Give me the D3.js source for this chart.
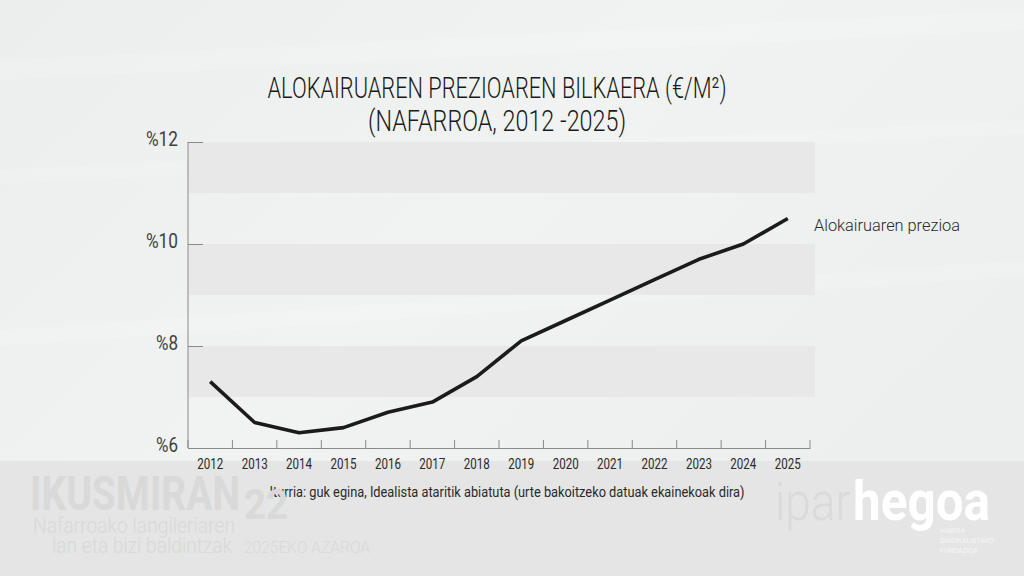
<!DOCTYPE html>
<html><head><meta charset="utf-8">
<script src="https://cdn.jsdelivr.net/npm/d3@7"></script>
<style>
html,body{margin:0;padding:0;background:#eef0ef;}
svg{display:block;}
text{font-family:Roboto,"Open Sans",sans-serif;}
</style></head>
<body>
<svg id="chart" width="1024" height="576"></svg>
<script>
const years = ["2012","2013","2014","2015","2016","2017","2018","2019","2020","2021","2022","2023","2024","2025"];
const prices = [7.3, 6.5, 6.3, 6.4, 6.7, 6.9, 7.4, 8.1, 8.5, 8.9, 9.3, 9.7, 10.0, 10.5];
const yTicks = [6, 8, 10, 12];
const seriesName = "Alokairuaren prezioa";
const titleLines = ["ALOKAIRUAREN PREZIOAREN BILKAERA (€/M²)", "(NAFARROA, 2012 -2025)"];
const sourceText = "Iturria: guk egina, Idealista ataritik abiatuta (urte bakoitzeko datuak ekainekoak dira)";

const svg = d3.select("#chart");
const W = 1024, H = 576;
function fit(sel, w){ return sel.attr("textLength", w).attr("lengthAdjust","spacingAndGlyphs"); }

// background
const defs = svg.append("defs");
const g1 = defs.append("linearGradient").attr("id","bg").attr("x1","0").attr("y1","0").attr("x2","1").attr("y2","0.6");
g1.append("stop").attr("offset","0").attr("stop-color","#eceeed");
g1.append("stop").attr("offset","0.5").attr("stop-color","#f1f3f2");
g1.append("stop").attr("offset","1").attr("stop-color","#edefee");
svg.append("rect").attr("width",W).attr("height",H).attr("fill","url(#bg)");
[[0,60,1024,10,20],[0,170,1024,120,14],[0,330,1024,260,16]].forEach(s=>{
  svg.append("path").attr("d",`M${s[0]},${s[1]} L${s[2]},${s[3]} L${s[2]},${s[3]+s[4]} L${s[0]},${s[1]+s[4]} Z`)
    .attr("fill","#ffffff").attr("opacity",0.15);
});
svg.append("rect").attr("x",0).attr("y",461).attr("width",W).attr("height",H-461).attr("fill","#e4e5e4");

const x = d3.scaleBand().domain(years).range([188, 810]).padding(0);
const y = d3.scaleLinear().domain([6, 12]).range([448, 142]);

// alternating bands
const bandStarts = d3.range(7, 12, 2);
svg.append("g").selectAll("rect").data(bandStarts).join("rect")
  .attr("x", 188).attr("width", 627)
  .attr("y", d => y(d+1)).attr("height", d => y(d) - y(d+1))
  .attr("fill", "#e8e8e8");

// y axis
const yAxis = d3.axisRight(y).tickValues(yTicks).tickSize(15).tickFormat("");
const gy = svg.append("g").attr("transform","translate(188,0)").call(yAxis);
gy.select(".domain").attr("stroke","#8a8a8a").attr("d","M0,142V448");
gy.selectAll(".tick line").attr("stroke","#8a8a8a");
svg.append("g").selectAll("text").data(yTicks).join("text")
  .attr("x", 178).attr("y", d => y(d) + 4)
  .attr("text-anchor","end").attr("font-size",20).attr("fill","#404040")
  .attr("textLength", d => String(d).length > 1 ? 32 : 22).attr("lengthAdjust","spacingAndGlyphs")
  .text(d => "%" + d);

// x axis
const xAxis = d3.axisBottom(x).tickSize(0).tickFormat(d=>d);
const gx = svg.append("g").attr("transform","translate(0,448)").call(xAxis);
gx.select(".domain").attr("stroke","#8a8a8a");
gx.selectAll(".tick text").attr("dy",0).attr("y",21).attr("font-size",14).attr("fill","#2a2a2a")
  .style("font-family","Roboto,sans-serif").attr("textLength",26).attr("lengthAdjust","spacingAndGlyphs");
const bounds = years.map(d => x(d)).concat([x.range()[1]]);
svg.append("g").selectAll("line").data(bounds).join("line")
  .attr("x1", d=>d).attr("x2", d=>d).attr("y1", 440).attr("y2", 448)
  .attr("stroke","#8a8a8a");

// line
const line = d3.line().x((d,i) => x(years[i]) + x.bandwidth()/2).y(d => y(d));
svg.append("path").datum(prices).attr("d", line)
  .attr("fill","none").attr("stroke","#1b1b1b").attr("stroke-width",3.6)
  .attr("stroke-linejoin","round");

// series label
fit(svg.append("text").attr("x", 814).attr("y", y(prices[prices.length-1]) + 12)
  .attr("font-size",17).attr("font-weight",300).attr("fill","#2a2a2a").text(seriesName), 146);

// title
const titleW = [459, 258];
svg.append("g").selectAll("text").data(titleLines).join("text")
  .attr("x", 497).attr("y", (d,i) => 98 + i*33)
  .attr("text-anchor","middle").attr("font-size",30).attr("font-weight",300).attr("fill","#1a1a1a")
  .attr("textLength",(d,i)=>titleW[i]).attr("lengthAdjust","spacingAndGlyphs")
  .text(d => d);

// source
fit(svg.append("text").attr("x", 507).attr("y", 497).attr("text-anchor","middle")
  .attr("font-size",15).attr("fill","#2a2a2a").text(sourceText), 475);

// bottom decorations
const deco = svg.append("g").attr("fill","#d8d9d8");
fit(deco.append("text").attr("x",30).attr("y",510).attr("font-size",48).attr("font-weight","bold").text("IKUSMIRAN"),210);
fit(deco.append("text").attr("x",244).attr("y",519).attr("font-size",42).attr("font-weight","bold").text("22"),44);
fit(deco.append("text").attr("x",33).attr("y",533).attr("font-size",22).attr("font-weight",300).text("Nafarroako langileriaren"),202);
fit(deco.append("text").attr("x",52).attr("y",553).attr("font-size",22).attr("font-weight",300).text("lan eta bizi baldintzak"),180);
fit(deco.append("text").attr("x",244).attr("y",553).attr("font-size",17).attr("font-weight",300).text("2025EKO AZAROA"),126);
fit(svg.append("text").attr("x",775).attr("y",520).attr("font-size",54).attr("fill","#d9dad9").attr("font-weight","300").text("ipar"),76);
fit(svg.append("text").attr("x",853).attr("y",520).attr("font-size",56).attr("fill","#ffffff").attr("font-weight","bold").text("hegoa"),137);
const smallLogo = ["HABIDA","SINDIKALISTAKO","FUNDAZIOA"];
svg.append("g").selectAll("text").data(smallLogo).join("text")
  .attr("x",940).attr("y",(d,i)=>533+i*10).attr("font-size",7).attr("fill","#f6f6f6").text(d=>d);
</script>
</body></html>
